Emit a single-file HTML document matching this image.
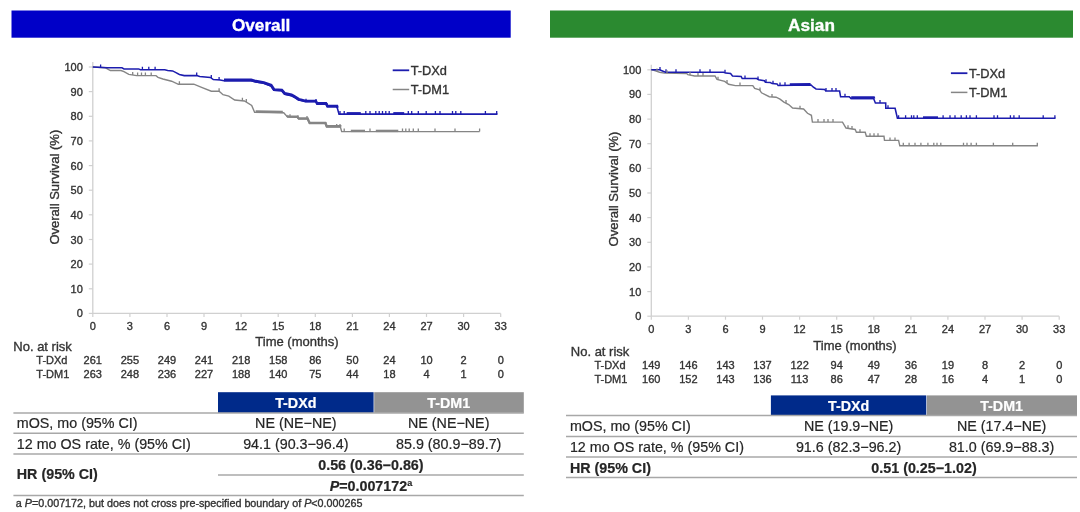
<!DOCTYPE html>
<html><head><meta charset="utf-8"><style>
html,body{margin:0;padding:0;background:#fff;}
body{width:1080px;height:512px;overflow:hidden;}
svg{display:block;font-family:"Liberation Sans", sans-serif;filter:blur(0.35px);}
text{stroke:#333;stroke-width:0.35px;}
.t text{stroke:#262626;stroke-width:0.2px;}
text.w,.t text.w{stroke:#fff;}
</style></head><body>
<svg width="1080" height="512" viewBox="0 0 1080 512" fill="#333333">
<rect x="11.5" y="10.5" width="499.2" height="27.2" fill="#0000c8"/>
<text x="261.1" y="30.7" text-anchor="middle" font-size="17.2" font-weight="bold" fill="#fff" class="w">Overall</text>
<rect x="550" y="10.5" width="523" height="27.2" fill="#2b8a30"/>
<text x="811.5" y="30.7" text-anchor="middle" font-size="17.2" font-weight="bold" fill="#fff" class="w">Asian</text>
<path d="M92.8 62.0 V313.4 H500.7" fill="none" stroke="#d0d0d0" stroke-width="1.3"/>
<path d="M88.8 67.0 H92.8" stroke="#d0d0d0" stroke-width="1.2"/>
<text x="82.8" y="71.0" text-anchor="end" font-size="11">100</text>
<path d="M88.8 91.6 H92.8" stroke="#d0d0d0" stroke-width="1.2"/>
<text x="82.8" y="95.6" text-anchor="end" font-size="11">90</text>
<path d="M88.8 116.3 H92.8" stroke="#d0d0d0" stroke-width="1.2"/>
<text x="82.8" y="120.3" text-anchor="end" font-size="11">80</text>
<path d="M88.8 140.9 H92.8" stroke="#d0d0d0" stroke-width="1.2"/>
<text x="82.8" y="144.9" text-anchor="end" font-size="11">70</text>
<path d="M88.8 165.6 H92.8" stroke="#d0d0d0" stroke-width="1.2"/>
<text x="82.8" y="169.6" text-anchor="end" font-size="11">60</text>
<path d="M88.8 190.2 H92.8" stroke="#d0d0d0" stroke-width="1.2"/>
<text x="82.8" y="194.2" text-anchor="end" font-size="11">50</text>
<path d="M88.8 214.8 H92.8" stroke="#d0d0d0" stroke-width="1.2"/>
<text x="82.8" y="218.8" text-anchor="end" font-size="11">40</text>
<path d="M88.8 239.5 H92.8" stroke="#d0d0d0" stroke-width="1.2"/>
<text x="82.8" y="243.5" text-anchor="end" font-size="11">30</text>
<path d="M88.8 264.1 H92.8" stroke="#d0d0d0" stroke-width="1.2"/>
<text x="82.8" y="268.1" text-anchor="end" font-size="11">20</text>
<path d="M88.8 288.8 H92.8" stroke="#d0d0d0" stroke-width="1.2"/>
<text x="82.8" y="292.8" text-anchor="end" font-size="11">10</text>
<path d="M88.8 313.4 H92.8" stroke="#d0d0d0" stroke-width="1.2"/>
<text x="82.8" y="317.4" text-anchor="end" font-size="11">0</text>
<path d="M92.8 313.4 V316.9" stroke="#d0d0d0" stroke-width="1.2"/>
<text x="92.8" y="329.9" text-anchor="middle" font-size="11">0</text>
<text x="92.8" y="364.3" text-anchor="middle" font-size="11">261</text>
<text x="92.8" y="377.9" text-anchor="middle" font-size="11">263</text>
<path d="M129.9 313.4 V316.9" stroke="#d0d0d0" stroke-width="1.2"/>
<text x="129.9" y="329.9" text-anchor="middle" font-size="11">3</text>
<text x="129.9" y="364.3" text-anchor="middle" font-size="11">255</text>
<text x="129.9" y="377.9" text-anchor="middle" font-size="11">248</text>
<path d="M167.0 313.4 V316.9" stroke="#d0d0d0" stroke-width="1.2"/>
<text x="167.0" y="329.9" text-anchor="middle" font-size="11">6</text>
<text x="167.0" y="364.3" text-anchor="middle" font-size="11">249</text>
<text x="167.0" y="377.9" text-anchor="middle" font-size="11">236</text>
<path d="M204.0 313.4 V316.9" stroke="#d0d0d0" stroke-width="1.2"/>
<text x="204.0" y="329.9" text-anchor="middle" font-size="11">9</text>
<text x="204.0" y="364.3" text-anchor="middle" font-size="11">241</text>
<text x="204.0" y="377.9" text-anchor="middle" font-size="11">227</text>
<path d="M241.1 313.4 V316.9" stroke="#d0d0d0" stroke-width="1.2"/>
<text x="241.1" y="329.9" text-anchor="middle" font-size="11">12</text>
<text x="241.1" y="364.3" text-anchor="middle" font-size="11">218</text>
<text x="241.1" y="377.9" text-anchor="middle" font-size="11">188</text>
<path d="M278.2 313.4 V316.9" stroke="#d0d0d0" stroke-width="1.2"/>
<text x="278.2" y="329.9" text-anchor="middle" font-size="11">15</text>
<text x="278.2" y="364.3" text-anchor="middle" font-size="11">158</text>
<text x="278.2" y="377.9" text-anchor="middle" font-size="11">140</text>
<path d="M315.3 313.4 V316.9" stroke="#d0d0d0" stroke-width="1.2"/>
<text x="315.3" y="329.9" text-anchor="middle" font-size="11">18</text>
<text x="315.3" y="364.3" text-anchor="middle" font-size="11">86</text>
<text x="315.3" y="377.9" text-anchor="middle" font-size="11">75</text>
<path d="M352.4 313.4 V316.9" stroke="#d0d0d0" stroke-width="1.2"/>
<text x="352.4" y="329.9" text-anchor="middle" font-size="11">21</text>
<text x="352.4" y="364.3" text-anchor="middle" font-size="11">50</text>
<text x="352.4" y="377.9" text-anchor="middle" font-size="11">44</text>
<path d="M389.4 313.4 V316.9" stroke="#d0d0d0" stroke-width="1.2"/>
<text x="389.4" y="329.9" text-anchor="middle" font-size="11">24</text>
<text x="389.4" y="364.3" text-anchor="middle" font-size="11">24</text>
<text x="389.4" y="377.9" text-anchor="middle" font-size="11">18</text>
<path d="M426.5 313.4 V316.9" stroke="#d0d0d0" stroke-width="1.2"/>
<text x="426.5" y="329.9" text-anchor="middle" font-size="11">27</text>
<text x="426.5" y="364.3" text-anchor="middle" font-size="11">10</text>
<text x="426.5" y="377.9" text-anchor="middle" font-size="11">4</text>
<path d="M463.6 313.4 V316.9" stroke="#d0d0d0" stroke-width="1.2"/>
<text x="463.6" y="329.9" text-anchor="middle" font-size="11">30</text>
<text x="463.6" y="364.3" text-anchor="middle" font-size="11">2</text>
<text x="463.6" y="377.9" text-anchor="middle" font-size="11">1</text>
<path d="M500.7 313.4 V316.9" stroke="#d0d0d0" stroke-width="1.2"/>
<text x="500.7" y="329.9" text-anchor="middle" font-size="11">33</text>
<text x="500.7" y="364.3" text-anchor="middle" font-size="11">0</text>
<text x="500.7" y="377.9" text-anchor="middle" font-size="11">0</text>
<text x="297.0" y="346.3" text-anchor="middle" font-size="13">Time (months)</text>
<text transform="translate(54.8 187.2) rotate(-90)" text-anchor="middle" font-size="13" y="4.5">Overall Survival (%)</text>
<text x="13.3" y="351.4" font-size="13">No. at risk</text>
<text x="36.3" y="364.3" font-size="11">T-DXd</text>
<text x="36.3" y="377.9" font-size="11">T-DM1</text>
<path d="M92.8 67.0 L105.5 67.8 L110.4 70.5 L121.0 70.5 L124.0 71.7 L128.8 74.4 L136.6 75.6 L156.0 75.6 L158.0 77.3 L162.9 79.0 L171.6 81.2 L178.4 84.3 L193.8 84.2 L201.6 87.4 L211.3 91.2 L219.1 91.2 L223.0 94.7 L228.8 96.1 L234.7 100.0 L244.4 101.0 L251.7 105.4 L254.6 112.2 L283.7 112.7 L287.7 117.1 L297.3 117.4 L298.7 119.1 L307.6 119.1 L309.6 123.6 L325.3 123.6 L326.7 127.0 L340.4 127.0 L341.7 131.6 L479.6 131.6" fill="none" stroke="#858585" stroke-width="1.4"/>
<path d="M92.8 67.0 L107.4 67.8 L122.0 67.8 L124.0 68.9 L138.6 68.9 L140.5 69.7 L164.8 69.7 L167.7 70.5 L172.6 70.9 L175.5 72.4 L179.4 74.4 L184.2 75.6 L196.7 75.5 L199.7 76.5 L210.4 77.4 L213.3 79.6 L220.1 80.1 L224.0 80.7 L251.2 80.7 L256.0 82.0 L263.8 83.3 L271.1 86.0 L274.0 90.3 L281.8 90.8 L284.7 94.2 L291.5 95.7 L294.4 97.2 L298.7 100.0 L305.5 101.7 L315.8 101.7 L317.1 104.1 L326.0 104.1 L327.4 106.8 L337.0 106.8 L339.0 114.1 L497.5 114.1" fill="none" stroke="#1c1cae" stroke-width="1.55"/>
<path d="M392.7 70.3 h16.5" stroke="#1c1cae" stroke-width="1.8"/>
<path d="M392.7 89.5 h16.5" stroke="#858585" stroke-width="1.5"/>
<text x="410.7" y="74.8" font-size="12.8">T-DXd</text>
<text x="410.7" y="94.0" font-size="12.8">T-DM1</text>
<path d="M100.6 67.4 V64.4 M142.4 69.7 V66.7 M148.8 69.7 V66.7 M155.1 69.7 V66.7 M196.7 75.5 V72.5 M211.3 78.1 V75.1 M219.1 80.0 V77.0 M306.0 101.7 V98.7 M316.0 102.1 V99.1 M327.0 106.0 V103.0 M340.0 114.1 V111.1 M344.2 114.1 V111.1 M365.8 114.1 V111.1 M370.0 114.1 V111.1 M375.8 114.1 V111.1 M379.2 114.1 V111.1 M382.5 114.1 V111.1 M385.8 114.1 V111.1 M389.2 114.1 V111.1 M408.3 114.1 V111.1 M411.7 114.1 V111.1 M418.3 114.1 V111.1 M426.2 114.1 V111.1 M435.4 114.1 V111.1 M440.0 114.1 V111.1 M452.5 114.1 V111.1 M455.8 114.1 V111.1 M460.8 114.1 V111.1 M485.4 114.1 V111.1 M496.7 114.1 V111.1 " stroke="#1c1cae" stroke-width="1.3" fill="none"/>
<path d="M132.7 75.0 V72.0 M137.6 75.6 V72.6 M141.5 75.6 V72.6 M145.4 75.6 V72.6 M151.2 75.6 V72.6 M179.4 84.3 V81.3 M219.1 91.2 V88.2 M242.4 100.8 V97.8 M246.3 102.1 V99.1 M290.0 117.2 V114.2 M298.0 118.2 V115.2 M307.0 119.1 V116.1 M326.0 125.3 V122.3 M336.7 127.0 V124.0 M340.0 127.0 V124.0 M344.2 131.6 V128.6 M370.0 131.6 V128.6 M402.5 131.6 V128.6 M405.8 131.6 V128.6 M409.2 131.6 V128.6 M413.3 131.6 V128.6 M418.3 131.6 V128.6 M435.0 131.6 V128.6 M455.0 131.6 V128.6 M479.6 131.6 V128.6 " stroke="#858585" stroke-width="1.3" fill="none"/>
<path d="M224.0 80.0 L251.2 80.0 L256.0 81.3 L263.8 82.6 L271.1 85.3 L274.0 89.6 L281.8 90.1 L284.7 93.5 L291.5 95.0 L294.4 96.5 L298.7 99.3 L300.0 99.6" stroke="#1c1cae" stroke-width="2.9" fill="none"/>
<path d="M346.7 113.4 L360.8 113.4" stroke="#1c1cae" stroke-width="2.6" fill="none"/>
<path d="M300.0 99.6 L305.5 101.0 L315.8 101.0 L317.1 103.4 L326.0 103.4 L327.4 106.1 L337.0 106.1 L337.5 107.9" stroke="#1c1cae" stroke-width="2.6" fill="none"/>
<path d="M287.0 115.6 L287.7 116.4 L297.3 116.7 L298.7 118.4 L307.6 118.4 L309.6 122.9 L325.3 122.9 L326.7 126.3 L340.4 126.3 L340.5 126.7" stroke="#858585" stroke-width="2.4" fill="none"/>
<path d="M393.3 113.4 L404.2 113.4" stroke="#1c1cae" stroke-width="2.6" fill="none"/>
<path d="M255.6 111.5 L282.8 112.0" stroke="#858585" stroke-width="2.6" fill="none"/>
<path d="M350.8 130.9 L365.0 130.9" stroke="#858585" stroke-width="2.4" fill="none"/>
<path d="M375.8 130.9 L398.3 130.9" stroke="#858585" stroke-width="2.4" fill="none"/>
<path d="M651.3 64.8 V316.2 H1059.2" fill="none" stroke="#d0d0d0" stroke-width="1.3"/>
<path d="M647.3 69.8 H651.3" stroke="#d0d0d0" stroke-width="1.2"/>
<text x="641.3" y="73.8" text-anchor="end" font-size="11">100</text>
<path d="M647.3 94.4 H651.3" stroke="#d0d0d0" stroke-width="1.2"/>
<text x="641.3" y="98.4" text-anchor="end" font-size="11">90</text>
<path d="M647.3 119.1 H651.3" stroke="#d0d0d0" stroke-width="1.2"/>
<text x="641.3" y="123.1" text-anchor="end" font-size="11">80</text>
<path d="M647.3 143.7 H651.3" stroke="#d0d0d0" stroke-width="1.2"/>
<text x="641.3" y="147.7" text-anchor="end" font-size="11">70</text>
<path d="M647.3 168.4 H651.3" stroke="#d0d0d0" stroke-width="1.2"/>
<text x="641.3" y="172.4" text-anchor="end" font-size="11">60</text>
<path d="M647.3 193.0 H651.3" stroke="#d0d0d0" stroke-width="1.2"/>
<text x="641.3" y="197.0" text-anchor="end" font-size="11">50</text>
<path d="M647.3 217.6 H651.3" stroke="#d0d0d0" stroke-width="1.2"/>
<text x="641.3" y="221.6" text-anchor="end" font-size="11">40</text>
<path d="M647.3 242.3 H651.3" stroke="#d0d0d0" stroke-width="1.2"/>
<text x="641.3" y="246.3" text-anchor="end" font-size="11">30</text>
<path d="M647.3 266.9 H651.3" stroke="#d0d0d0" stroke-width="1.2"/>
<text x="641.3" y="270.9" text-anchor="end" font-size="11">20</text>
<path d="M647.3 291.6 H651.3" stroke="#d0d0d0" stroke-width="1.2"/>
<text x="641.3" y="295.6" text-anchor="end" font-size="11">10</text>
<path d="M647.3 316.2 H651.3" stroke="#d0d0d0" stroke-width="1.2"/>
<text x="641.3" y="320.2" text-anchor="end" font-size="11">0</text>
<path d="M651.3 316.2 V319.7" stroke="#d0d0d0" stroke-width="1.2"/>
<text x="651.3" y="332.9" text-anchor="middle" font-size="11">0</text>
<text x="651.3" y="368.9" text-anchor="middle" font-size="11">149</text>
<text x="651.3" y="382.5" text-anchor="middle" font-size="11">160</text>
<path d="M688.4 316.2 V319.7" stroke="#d0d0d0" stroke-width="1.2"/>
<text x="688.4" y="332.9" text-anchor="middle" font-size="11">3</text>
<text x="688.4" y="368.9" text-anchor="middle" font-size="11">146</text>
<text x="688.4" y="382.5" text-anchor="middle" font-size="11">152</text>
<path d="M725.5 316.2 V319.7" stroke="#d0d0d0" stroke-width="1.2"/>
<text x="725.5" y="332.9" text-anchor="middle" font-size="11">6</text>
<text x="725.5" y="368.9" text-anchor="middle" font-size="11">143</text>
<text x="725.5" y="382.5" text-anchor="middle" font-size="11">143</text>
<path d="M762.5 316.2 V319.7" stroke="#d0d0d0" stroke-width="1.2"/>
<text x="762.5" y="332.9" text-anchor="middle" font-size="11">9</text>
<text x="762.5" y="368.9" text-anchor="middle" font-size="11">137</text>
<text x="762.5" y="382.5" text-anchor="middle" font-size="11">136</text>
<path d="M799.6 316.2 V319.7" stroke="#d0d0d0" stroke-width="1.2"/>
<text x="799.6" y="332.9" text-anchor="middle" font-size="11">12</text>
<text x="799.6" y="368.9" text-anchor="middle" font-size="11">122</text>
<text x="799.6" y="382.5" text-anchor="middle" font-size="11">113</text>
<path d="M836.7 316.2 V319.7" stroke="#d0d0d0" stroke-width="1.2"/>
<text x="836.7" y="332.9" text-anchor="middle" font-size="11">15</text>
<text x="836.7" y="368.9" text-anchor="middle" font-size="11">94</text>
<text x="836.7" y="382.5" text-anchor="middle" font-size="11">86</text>
<path d="M873.8 316.2 V319.7" stroke="#d0d0d0" stroke-width="1.2"/>
<text x="873.8" y="332.9" text-anchor="middle" font-size="11">18</text>
<text x="873.8" y="368.9" text-anchor="middle" font-size="11">49</text>
<text x="873.8" y="382.5" text-anchor="middle" font-size="11">47</text>
<path d="M910.9 316.2 V319.7" stroke="#d0d0d0" stroke-width="1.2"/>
<text x="910.9" y="332.9" text-anchor="middle" font-size="11">21</text>
<text x="910.9" y="368.9" text-anchor="middle" font-size="11">36</text>
<text x="910.9" y="382.5" text-anchor="middle" font-size="11">28</text>
<path d="M947.9 316.2 V319.7" stroke="#d0d0d0" stroke-width="1.2"/>
<text x="947.9" y="332.9" text-anchor="middle" font-size="11">24</text>
<text x="947.9" y="368.9" text-anchor="middle" font-size="11">19</text>
<text x="947.9" y="382.5" text-anchor="middle" font-size="11">16</text>
<path d="M985.0 316.2 V319.7" stroke="#d0d0d0" stroke-width="1.2"/>
<text x="985.0" y="332.9" text-anchor="middle" font-size="11">27</text>
<text x="985.0" y="368.9" text-anchor="middle" font-size="11">8</text>
<text x="985.0" y="382.5" text-anchor="middle" font-size="11">4</text>
<path d="M1022.1 316.2 V319.7" stroke="#d0d0d0" stroke-width="1.2"/>
<text x="1022.1" y="332.9" text-anchor="middle" font-size="11">30</text>
<text x="1022.1" y="368.9" text-anchor="middle" font-size="11">2</text>
<text x="1022.1" y="382.5" text-anchor="middle" font-size="11">1</text>
<path d="M1059.2 316.2 V319.7" stroke="#d0d0d0" stroke-width="1.2"/>
<text x="1059.2" y="332.9" text-anchor="middle" font-size="11">33</text>
<text x="1059.2" y="368.9" text-anchor="middle" font-size="11">0</text>
<text x="1059.2" y="382.5" text-anchor="middle" font-size="11">0</text>
<text x="855.0" y="349.5" text-anchor="middle" font-size="13">Time (months)</text>
<text transform="translate(613.6 189.0) rotate(-90)" text-anchor="middle" font-size="13" y="4.5">Overall Survival (%)</text>
<text x="570.8" y="355.9" font-size="13">No. at risk</text>
<text x="594.4" y="368.9" font-size="11">T-DXd</text>
<text x="594.4" y="382.5" font-size="11">T-DM1</text>
<path d="M651.3 69.7 L654.7 70.7 L659.6 72.2 L664.4 73.1 L686.8 73.6 L687.8 74.6 L694.6 76.0 L715.0 76.0 L717.0 79.4 L724.7 81.4 L728.6 84.3 L735.4 85.6 L752.8 85.6 L754.7 88.5 L759.6 89.9 L761.5 92.8 L769.3 96.7 L776.1 97.2 L780.0 99.2 L783.9 102.1 L788.7 104.5 L792.6 108.0 L803.6 109.0 L807.5 113.3 L811.4 115.3 L812.4 122.1 L842.5 122.1 L846.0 128.0 L855.2 129.5 L856.4 132.2 L865.2 132.2 L866.4 136.3 L884.0 136.3 L884.5 140.4 L898.6 140.4 L899.8 145.8 L1037.9 145.8" fill="none" stroke="#858585" stroke-width="1.4"/>
<path d="M651.3 69.7 L659.6 69.7 L665.4 72.2 L723.7 72.2 L725.7 73.1 L730.6 73.6 L732.5 76.0 L741.2 76.5 L742.2 78.5 L756.7 78.6 L758.6 79.7 L764.4 80.7 L765.4 82.2 L770.3 82.6 L772.2 83.6 L777.1 84.1 L778.1 85.4 L811.1 85.0 L813.1 87.0 L816.0 89.0 L824.7 89.4 L825.7 91.0 L839.6 91.0 L840.6 96.8 L849.3 96.8 L851.2 98.5 L873.6 98.5 L875.4 103.0 L885.7 103.0 L885.8 108.3 L895.1 108.3 L897.4 118.2 L1055.5 118.2" fill="none" stroke="#1c1cae" stroke-width="1.55"/>
<path d="M950.9 73.2 h16.5" stroke="#1c1cae" stroke-width="1.8"/>
<path d="M950.9 92.4 h16.5" stroke="#858585" stroke-width="1.5"/>
<text x="968.9" y="77.7" font-size="12.8">T-DXd</text>
<text x="968.9" y="96.9" font-size="12.8">T-DM1</text>
<path d="M660.0 69.9 V66.9 M666.0 72.2 V69.2 M676.0 72.2 V69.2 M700.0 72.2 V69.2 M710.0 72.2 V69.2 M725.0 72.8 V69.8 M745.0 78.5 V75.5 M758.0 79.4 V76.4 M766.0 82.2 V79.2 M773.0 83.7 V80.7 M780.0 85.4 V82.4 M785.0 85.3 V82.3 M826.0 91.0 V88.0 M832.0 91.0 V88.0 M836.0 91.0 V88.0 M845.0 96.8 V93.8 M880.0 103.0 V100.0 M888.0 108.3 V105.3 M898.6 118.2 V115.2 M905.6 118.2 V115.2 M911.5 118.2 V115.2 M913.8 118.2 V115.2 M917.3 118.2 V115.2 M943.1 118.2 V115.2 M950.0 118.2 V115.2 M955.0 118.2 V115.2 M961.2 118.2 V115.2 M966.4 118.2 V115.2 M970.0 118.2 V115.2 M976.4 118.2 V115.2 M994.0 118.2 V115.2 M997.5 118.2 V115.2 M1010.4 118.2 V115.2 M1013.9 118.2 V115.2 M1019.2 118.2 V115.2 M1043.2 118.2 V115.2 M1054.9 118.2 V115.2 " stroke="#1c1cae" stroke-width="1.3" fill="none"/>
<path d="M657.0 71.4 V68.4 M667.0 73.2 V70.2 M690.0 75.1 V72.1 M698.0 76.0 V73.0 M703.0 76.0 V73.0 M718.0 79.7 V76.7 M727.0 83.1 V80.1 M740.0 85.6 V82.6 M760.0 90.5 V87.5 M772.0 96.9 V93.9 M786.0 103.1 V100.1 M800.0 108.7 V105.7 M818.0 122.1 V119.1 M824.0 122.1 V119.1 M828.0 122.1 V119.1 M833.0 122.1 V119.1 M848.0 128.3 V125.3 M852.0 129.0 V126.0 M860.0 132.2 V129.2 M870.0 136.3 V133.3 M874.0 136.3 V133.3 M878.0 136.3 V133.3 M890.0 140.4 V137.4 M895.0 140.4 V137.4 M903.3 145.8 V142.8 M909.1 145.8 V142.8 M915.0 145.8 V142.8 M920.9 145.8 V142.8 M927.9 145.8 V142.8 M933.8 145.8 V142.8 M937.0 145.8 V142.8 M940.8 145.8 V142.8 M963.5 145.8 V142.8 M967.0 145.8 V142.8 M971.1 145.8 V142.8 M976.4 145.8 V142.8 M993.4 145.8 V142.8 M1012.7 145.8 V142.8 M1037.3 145.8 V142.8 " stroke="#858585" stroke-width="1.3" fill="none"/>
<path d="M789.8 84.6 L810.6 84.3" stroke="#1c1cae" stroke-width="2.7" fill="none"/>
<path d="M851.0 97.6 L851.2 97.8 L873.6 97.8 L874.0 98.8" stroke="#1c1cae" stroke-width="2.9" fill="none"/>
<path d="M923.0 117.5 L938.0 117.5" stroke="#1c1cae" stroke-width="2.4" fill="none"/>
<g fill="#262626" class="t"><rect x="218.0" y="392.2" width="155.6" height="20.7" fill="#002a8a"/>
<rect x="374.2" y="392.2" width="149.6" height="20.7" fill="#939393"/>
<text x="295.8" y="407.6" text-anchor="middle" font-size="14.3" font-weight="bold" fill="#fff" class="w">T-DXd</text>
<text x="448.7" y="407.6" text-anchor="middle" font-size="14.3" font-weight="bold" fill="#fff" class="w">T-DM1</text>
<text x="16.8" y="427.6" font-size="14.3">mOS, mo (95% CI)</text>
<text x="295.8" y="427.6" text-anchor="middle" font-size="14.3">NE (NE&#8722;NE)</text>
<text x="448.7" y="427.6" text-anchor="middle" font-size="14.3">NE (NE&#8722;NE)</text>
<text x="16.8" y="448.6" font-size="14.3">12 mo OS rate, % (95% CI)</text>
<text x="295.8" y="448.6" text-anchor="middle" font-size="14.3">94.1 (90.3&#8722;96.4)</text>
<text x="448.7" y="448.6" text-anchor="middle" font-size="14.3">85.9 (80.9&#8722;89.7)</text>
<path d="M13.4 412.9 H523.8" stroke="#a8a8a8" stroke-width="1.5"/>
<path d="M13.4 433.3 H523.8" stroke="#a8a8a8" stroke-width="1.5"/>
<path d="M13.4 454.1 H523.8" stroke="#a8a8a8" stroke-width="1.5"/>
<path d="M218.0 474.9 H523.8" stroke="#a8a8a8" stroke-width="1.5"/>
<path d="M13.4 495.5 H523.8" stroke="#a8a8a8" stroke-width="1.5"/>
<text x="16.8" y="479.3" font-size="14.3" font-weight="bold">HR (95% CI)</text>
<text x="370.9" y="469.5" text-anchor="middle" font-size="14.3" font-weight="bold">0.56 (0.36&#8722;0.86)</text>
<text x="370.9" y="490.5" text-anchor="middle" font-size="14.3" font-weight="bold"><tspan font-style="italic">P</tspan>=0.007172<tspan font-size="9" dy="-5">a</tspan></text></g>
<g fill="#262626" class="t"><rect x="770.9" y="395.4" width="155.4" height="20.2" fill="#002a8a"/>
<rect x="926.9" y="395.4" width="150.1" height="20.2" fill="#939393"/>
<text x="848.6" y="410.6" text-anchor="middle" font-size="14.3" font-weight="bold" fill="#fff" class="w">T-DXd</text>
<text x="1001.6" y="410.6" text-anchor="middle" font-size="14.3" font-weight="bold" fill="#fff" class="w">T-DM1</text>
<text x="569.9" y="430.8" font-size="14.3">mOS, mo (95% CI)</text>
<text x="848.6" y="430.8" text-anchor="middle" font-size="14.3">NE (19.9&#8722;NE)</text>
<text x="1001.6" y="430.8" text-anchor="middle" font-size="14.3">NE (17.4&#8722;NE)</text>
<text x="569.9" y="451.7" font-size="14.3">12 mo OS rate, % (95% CI)</text>
<text x="848.6" y="451.7" text-anchor="middle" font-size="14.3">91.6 (82.3&#8722;96.2)</text>
<text x="1001.6" y="451.7" text-anchor="middle" font-size="14.3">81.0 (69.9&#8722;88.3)</text>
<path d="M566.0 415.6 H1077.0" stroke="#a8a8a8" stroke-width="1.5"/>
<path d="M566.0 436.4 H1077.0" stroke="#a8a8a8" stroke-width="1.5"/>
<path d="M566.0 456.9 H1077.0" stroke="#a8a8a8" stroke-width="1.5"/>
<path d="M566.0 477.6 H1077.0" stroke="#a8a8a8" stroke-width="1.5"/>
<text x="569.9" y="472.6" font-size="14.3" font-weight="bold">HR (95% CI)</text>
<text x="924.0" y="472.8" text-anchor="middle" font-size="14.3" font-weight="bold">0.51 (0.25&#8722;1.02)</text></g>
<text x="15.8" y="507" font-size="10.75">a <tspan font-style="italic">P</tspan>=0.007172, but does not cross pre-specified boundary of <tspan font-style="italic">P</tspan>&lt;0.000265</text>
</svg>
</body></html>
